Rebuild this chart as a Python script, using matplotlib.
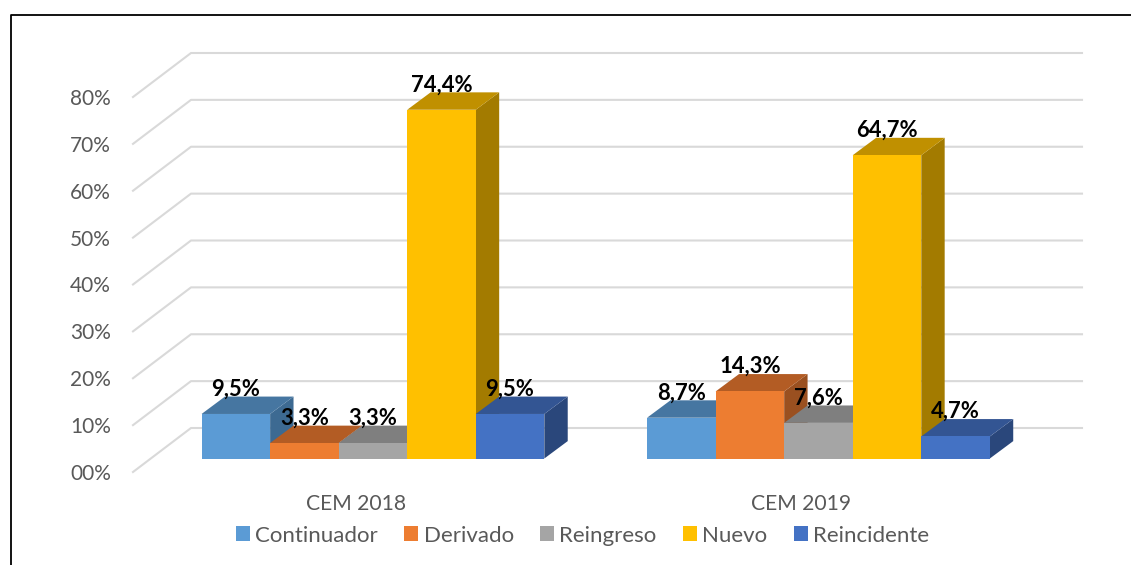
import matplotlib
matplotlib.use("Agg")
import matplotlib.pyplot as plt
from matplotlib.lines import Line2D
from matplotlib.patches import Polygon

W, H = 1131, 565
categories = ["CEM 2018", "CEM 2019"]
series = ["Continuador", "Derivado", "Reingreso", "Nuevo", "Reincidente"]
values_2018 = [9.5, 3.3, 3.3, 74.4, 9.5]
values_2019 = [8.7, 14.3, 7.6, 64.7, 4.7]
y_ticks = [0, 10, 20, 30, 40, 50, 60, 70, 80]
y_labels = ["00%", "10%", "20%", "30%", "40%", "50%", "60%", "70%", "80%"]

front = ["#5B9BD5", "#ED7D31", "#A5A5A5", "#FFC000", "#4472C4"]
top = ["#4676A1", "#B35C24", "#7F7F7F", "#C09000", "#335593"]
side = ["#3D6A92", "#9A5020", "#6E6E6E", "#A37B00", "#2A477B"]

plt.rcParams["font.family"] = ["Lato", "DejaVu Sans"]

fig = plt.figure(figsize=(W / 100, H / 100), dpi=100)
# axes = front edge of the floor, pixels 133..1024 across and 472..97 down
ax = fig.add_axes([133 / W, (H - 472) / H, 891 / W, 375 / H])
ax.set_xlim(0, 2)
ax.set_ylim(0, 80)
px_x = 2 / 891
px_y = 80 / 375

# wall depth and bar depth, in data units
wall_dx, wall_dy = 58 * px_x, 44 * px_y
bar_sx, bar_sy = 17.2 * px_x, 13.5 * px_y
depth_x, depth_y = 23.4 * px_x, 17.4 * px_y
bar_w = 68.55 * px_x

for v in y_ticks:
    ax.plot([0, wall_dx, 2 + wall_dx], [v, v + wall_dy, v + wall_dy],
            color="#D9D9D9", lw=1.5, clip_on=False, zorder=1)

z = 2
for g, vals in enumerate([values_2018, values_2019]):
    for i, val in enumerate(vals):
        x0 = g + 0.5 + bar_sx + (i - 2.5) * bar_w
        x1 = x0 + bar_w
        y1 = val + bar_sy
        ax.bar(x0, val, bar_w, bottom=bar_sy, align="edge", color=front[i],
               linewidth=0, clip_on=False, zorder=z + 2)
        ax.add_patch(Polygon([(x0, y1), (x1, y1), (x1 + depth_x, y1 + depth_y), (x0 + depth_x, y1 + depth_y)],
                             closed=True, fc=top[i], ec="none", clip_on=False, zorder=z + 1))
        ax.add_patch(Polygon([(x1, bar_sy), (x1, y1), (x1 + depth_x, y1 + depth_y), (x1 + depth_x, bar_sy + depth_y)],
                             closed=True, fc=side[i], ec="none", clip_on=False, zorder=z))
        ax.annotate(f"{val:.1f}%".replace(".", ","), (x0 + bar_w / 2, y1), xytext=(0, 18),
                    textcoords="offset points", ha="center", va="center",
                    fontsize=15.8, fontweight="bold", color="black", zorder=100)
        z += 3

ax.set_xticks([0.5, 1.5], categories)
ax.set_yticks(y_ticks, y_labels)
ax.tick_params(axis="both", length=0, labelcolor="#595959")
ax.tick_params(axis="y", pad=16, labelsize=15)
ax.tick_params(axis="x", pad=15.5, labelsize=15.2)
for s in ax.spines.values():
    s.set_visible(False)
ax.patch.set_alpha(0)

handles = [plt.Rectangle((0, 0), 1, 1, fc=c, ec="none") for c in front]
leg = fig.legend(handles, series, loc="center", bbox_to_anchor=(582.5 / W, (H - 535.5) / H), ncol=5,
                 frameon=False, fontsize=16, labelcolor="#595959", handlelength=0.63, handleheight=0.63,
                 handletextpad=0.23, columnspacing=1.19, borderpad=0, borderaxespad=0)

# outer frame of the pasted image
fig.add_artist(Line2D([10.5 / W, 10.5 / W, 1], [0, (H - 14.5) / H, (H - 14.5) / H], color="black", lw=1.3))

fig.savefig("out.png", dpi=100)
